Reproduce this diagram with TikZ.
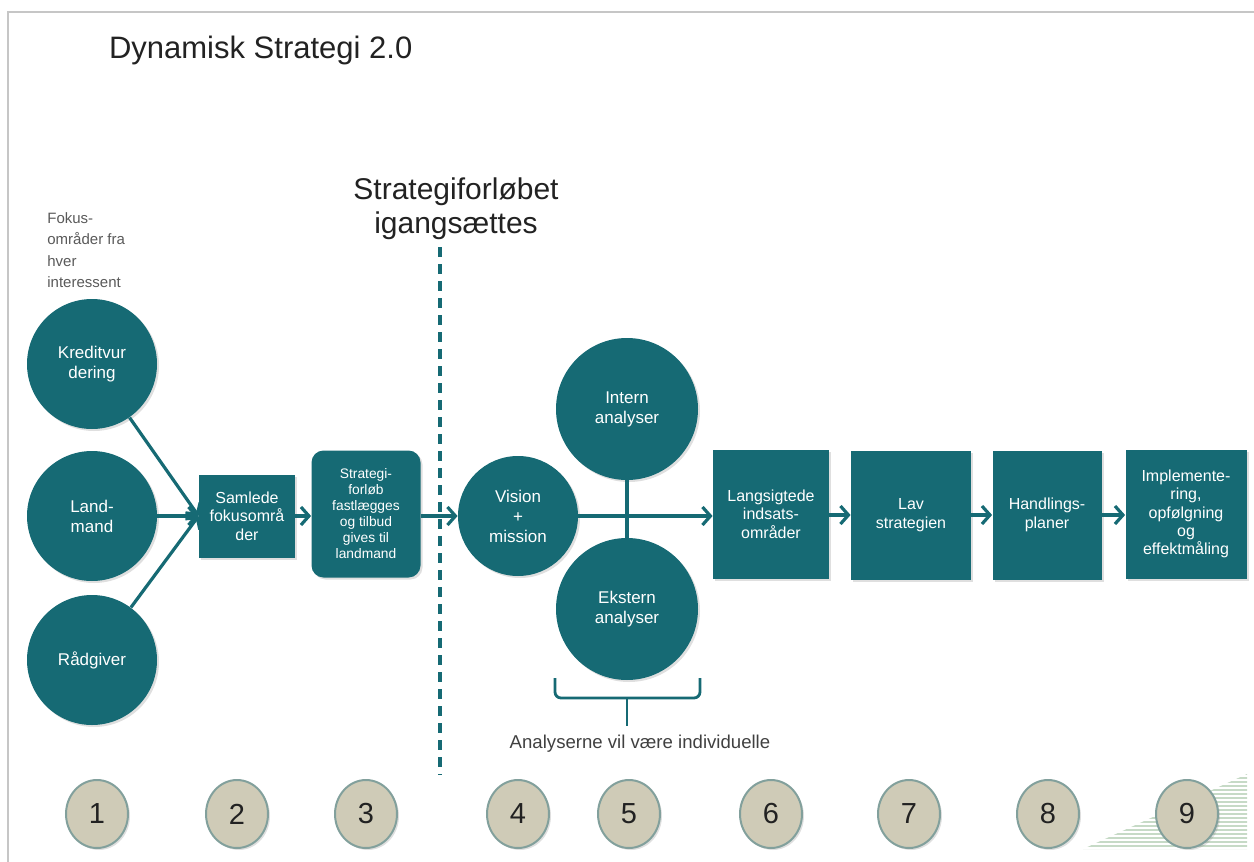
\documentclass[tikz,border=0pt]{standalone}
\usepackage{fontspec}
\setmainfont{Liberation Sans}
\usetikzlibrary{arrows.meta,shadows,shapes.geometric}
\definecolor{teal}{HTML}{166A74}
\definecolor{beige}{HTML}{CFCBB7}
\definecolor{ringc}{HTML}{82A09C}
\definecolor{titlec}{HTML}{222222}
\definecolor{stripec}{HTML}{C6DAC6}
\tikzset{
  shade/.style={drop shadow={opacity=0.25,shadow xshift=1pt,shadow yshift=-1pt}},
  bigcirc/.style={circle,fill=teal,text=white,align=center,inner sep=0pt,
    font=\fontsize{8.5}{10}\selectfont},
  sqbox/.style={rectangle,fill=teal,text=white,align=center,inner sep=1pt,shade,
    font=\fontsize{8}{9.2}\selectfont},
  numc/.style={ellipse,fill=beige,draw=ringc,line width=1pt,minimum width=31pt,
    minimum height=34pt,inner sep=0pt,font=\fontsize{14.5}{16}\selectfont,text=titlec},
  arr/.style={draw=teal,line width=1.6pt,-{Straight Barb[length=4pt,width=9pt,line width=1.6pt]}},
  conn/.style={draw=teal,line width=1.6pt},
}
\begin{document}
\begin{tikzpicture}[x=0.5pt,y=-0.5pt]
\useasboundingbox (0,0) rectangle (1254,862);
% frame
\draw[gray!45,line width=1pt] (8,862) -- (8,12) -- (1254,12);
% title
\node[anchor=west,text=titlec,font=\fontsize{15.5}{18}\selectfont] (title) at (102,50) {Dynamisk Strategi 2.0};
\node[align=center,text=titlec,font=\fontsize{15}{17}\selectfont] (start) at (456,209) {Strategiforløbet\\igangsættes};
\node[anchor=north west,align=left,text=black!65,font=\fontsize{7.5}{10.75}\selectfont,inner sep=0pt] (fokus) at (47,212) {Fokus-\\områder fra\\hver\\interessent};
% dashed line
\coordinate (dtop) at (440,247);
\coordinate (dbot) at (440,775);
\draw[teal,line width=2pt,dash pattern=on 5pt off 3.5pt] (dtop) -- (dbot);
% left circles
\node[bigcirc,minimum size=65pt,shade] (kred) at (92,364) {Kreditvur\\dering};
\node[bigcirc,minimum size=65pt,shade] (land) at (92,516) {Land-\\mand};
\node[bigcirc,minimum size=65pt,shade] (raad) at (92,660) {Rådgiver};
% boxes
\node[sqbox,minimum width=48pt,minimum height=41.5pt] (sam) at (247,516) {Samlede\\fokusområ\\der};
\node[sqbox,rounded corners=6pt,minimum width=54.5pt,minimum height=63.5pt,
  font=\fontsize{6.9}{8}\selectfont] (strat) at (366,514) {Strategi-\\forløb\\fastlægges\\og tilbud\\gives til\\landmand};
\node[bigcirc,minimum size=60pt,shade] (vis) at (518,516) {Vision\\+\\mission};
\node[bigcirc,minimum size=71pt,shade] (intern) at (627,409) {Intern\\analyser};
\node[bigcirc,minimum size=71pt,shade] (ekst) at (627,609) {Ekstern\\analyser};
\node[sqbox,minimum width=58pt,minimum height=64.5pt] (lang) at (771,514) {Langsigtede\\indsats-\\områder};
\node[sqbox,minimum width=60pt,minimum height=64.5pt] (lav) at (911,515) {Lav\\strategien};
\node[sqbox,minimum width=54.5pt,minimum height=64.5pt] (handl) at (1047,515) {Handlings-\\planer};
\node[sqbox,minimum width=60.5pt,minimum height=64.5pt] (impl) at (1186,514) {Implemente-\\ring,\\opfølgning\\og\\effektmåling};
% connectors
\draw[arr] (kred) -- (sam.west);
\draw[arr] (land) -- (sam.west);
\draw[arr] (raad) -- (sam.west);
\draw[arr] (sam.east) -- (strat.west |- sam.east);
\draw[arr] (strat.east |- vis.west) -- (vis.west);
\draw[conn] (intern.south) -- (ekst.north);
\draw[arr] (vis.east) -- (lang.west |- vis.east);
\draw[arr] (lang.east |- lav.west) -- (lav.west);
\draw[arr] (lav.east) -- (handl.west);
\draw[arr] (handl.east) -- (impl.west |- handl.east);
% brace
\coordinate (bl) at (555,678);
\coordinate (br) at (700,678);
\coordinate (bm) at (627,698);
\coordinate (bt) at (627,726);
\draw[conn,line width=1.4pt,rounded corners=3pt] (bl) -- (bl |- bm) -- (br |- bm) -- (br);
\draw[conn,line width=1.4pt] (bm) -- (bt);
\node[text=black!75,font=\fontsize{9.3}{11}\selectfont] (anal) at (640,744) {Analyserne vil være individuelle};
% striped triangle
\begin{scope}
\clip (1083,849) -- (1247,774) -- (1247,849) -- cycle;
\foreach \yy in {774,778,...,850} \draw[stripec,line width=1.4pt] (1080,\yy) -- (1250,\yy);
\end{scope}
% numbers
\node[numc,shade] (n1) at (97,814) {1};
\node[numc,shade] (n2) at (237,814) {2};
\node[numc,shade] (n3) at (366,814) {3};
\node[numc,shade] (n4) at (518,814) {4};
\node[numc,shade] (n5) at (629,814) {5};
\node[numc,shade] (n6) at (771,814) {6};
\node[numc,shade] (n7) at (909,814) {7};
\node[numc,shade] (n8) at (1048,814) {8};
\node[numc,shade] (n9) at (1187,814) {9};
\end{tikzpicture}
\end{document}
